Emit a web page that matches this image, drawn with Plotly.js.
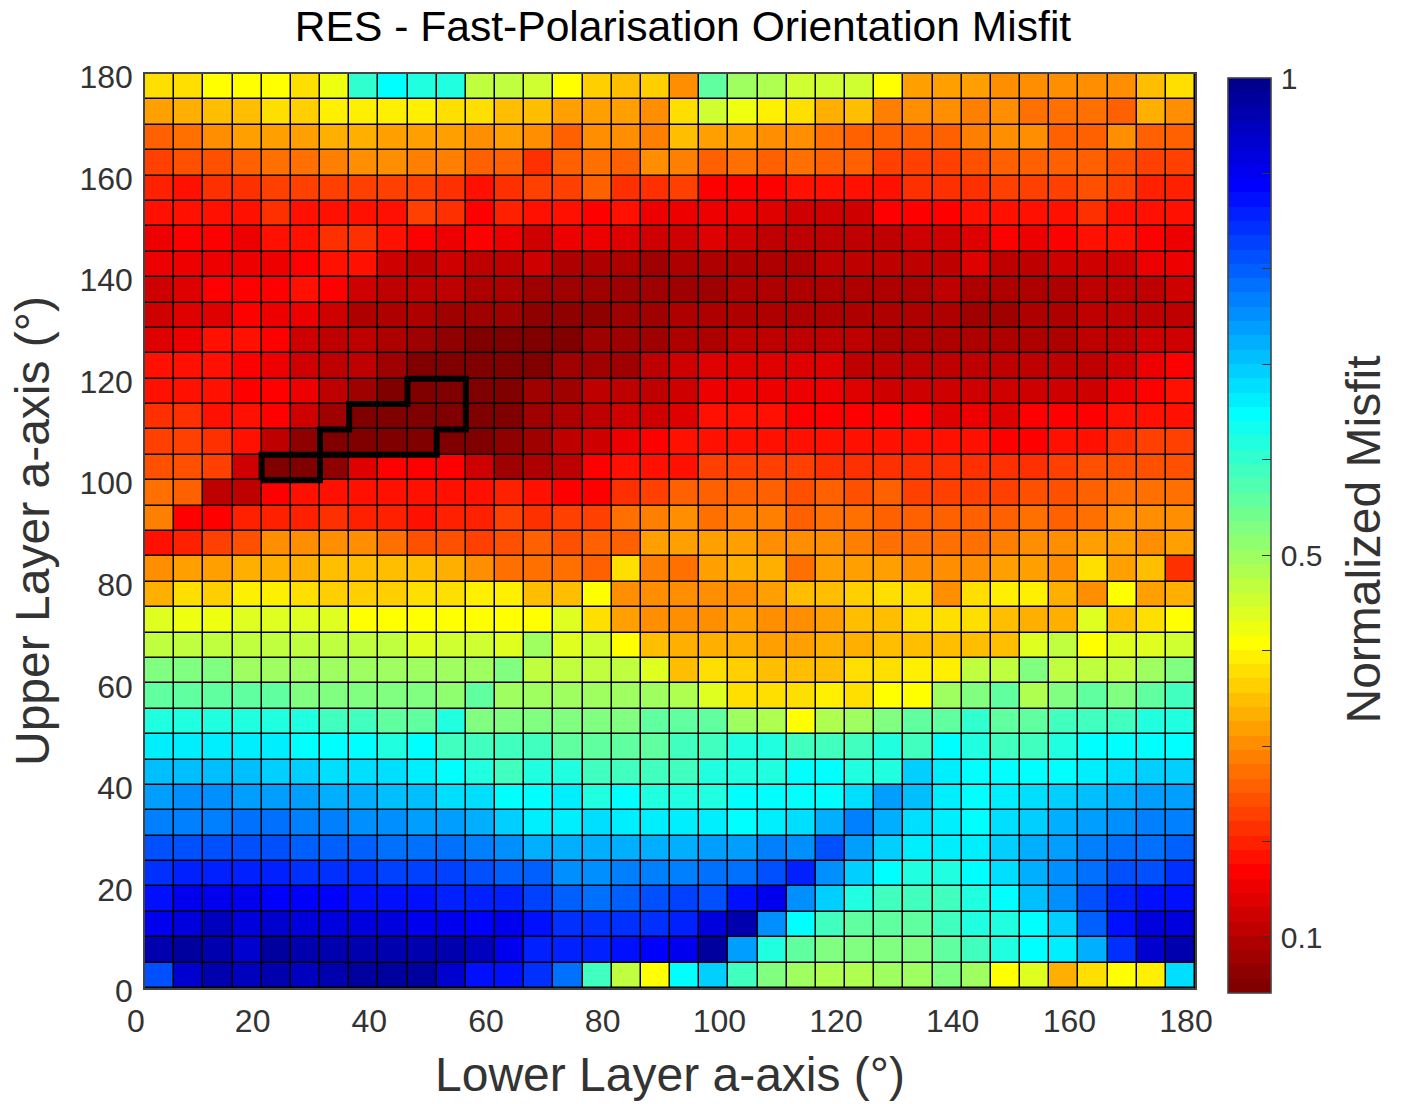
<!DOCTYPE html>
<html><head><meta charset="utf-8">
<script src="https://cdn.plot.ly/plotly-3.0.1.min.js"></script>
<style>html,body{margin:0;padding:0;background:#fff}#c{width:1402px;height:1104px}</style>
</head><body><div id="c"></div>
<script>
const lowerAxis = [2.5,7.5,12.5,17.5,22.5,27.5,32.5,37.5,42.5,47.5,52.5,57.5,62.5,67.5,72.5,77.5,82.5,87.5,92.5,97.5,102.5,107.5,112.5,117.5,122.5,127.5,132.5,137.5,142.5,147.5,152.5,157.5,162.5,167.5,172.5,177.5];
const upperAxis = [177.5,172.5,167.5,162.5,157.5,152.5,147.5,142.5,137.5,132.5,127.5,122.5,117.5,112.5,107.5,102.5,97.5,92.5,87.5,82.5,77.5,72.5,67.5,62.5,57.5,52.5,47.5,42.5,37.5,32.5,27.5,22.5,17.5,12.5,7.5,2.5];
const misfit = [
[.372,.372,.401,.401,.401,.372,.42,.61,.641,.625,.625,.475,.47,.46,.401,.365,.35,.365,.311,.565,.505,.49,.46,.46,.46,.415,.32,.326,.326,.297,.297,.30,.31,.30,.35,.372],
[.326,.341,.35,.35,.372,.365,.386,.386,.386,.386,.372,.372,.356,.356,.326,.326,.326,.297,.38,.46,.42,.386,.372,.341,.356,.29,.30,.30,.29,.297,.281,.27,.27,.266,.335,.30],
[.26,.27,.30,.32,.326,.326,.341,.341,.326,.326,.326,.311,.32,.30,.252,.297,.297,.29,.356,.326,.32,.297,.297,.281,.266,.266,.26,.26,.29,.297,.297,.26,.26,.297,.26,.26],
[.23,.245,.237,.26,.27,.27,.29,.297,.30,.29,.29,.266,.252,.215,.266,.281,.252,.297,.29,.266,.27,.252,.27,.26,.26,.23,.23,.222,.237,.252,.26,.252,.266,.245,.23,.23],
[.2,.191,.207,.207,.222,.222,.222,.23,.23,.222,.207,.191,.215,.23,.23,.266,.207,.207,.23,.162,.162,.162,.191,.177,.18,.177,.215,.215,.207,.222,.23,.23,.245,.23,.2,.2],
[.177,.177,.177,.191,.207,.191,.185,.191,.191,.222,.207,.162,.2,.177,.191,.162,.177,.147,.147,.147,.147,.132,.125,.125,.125,.162,.162,.162,.177,.185,.185,.191,.207,.191,.177,.177],
[.147,.162,.162,.155,.177,.185,.207,.207,.191,.162,.147,.162,.147,.117,.147,.147,.132,.125,.125,.132,.117,.11,.11,.102,.102,.105,.125,.125,.132,.162,.147,.162,.177,.177,.162,.147],
[.147,.147,.147,.147,.147,.162,.177,.177,.125,.11,.125,.102,.102,.125,.095,.095,.1,.085,.095,.095,.095,.095,.095,.108,.102,.11,.102,.105,.132,.102,.102,.125,.125,.125,.147,.147],
[.117,.132,.162,.162,.162,.177,.162,.125,.102,.105,.102,.095,.095,.08,.08,.08,.08,.08,.08,.08,.095,.095,.09,.095,.095,.095,.095,.102,.095,.09,.09,.095,.102,.105,.11,.125],
[.117,.135,.132,.162,.147,.147,.117,.095,.095,.09,.08,.078,.072,.068,.068,.068,.072,.08,.087,.1,.1,.1,.1,.1,.09,.095,.095,.1,.083,.083,.095,.098,.102,.102,.102,.105],
[.132,.147,.177,.191,.162,.117,.105,.11,.095,.08,.06,.05,.05,.052,.052,.072,.08,.08,.1,.1,.11,.11,.11,.11,.102,.098,.098,.098,.098,.095,.095,.098,.105,.11,.125,.125],
[.177,.191,.191,.162,.147,.117,.105,.102,.085,.052,.052,.05,.05,.052,.072,.072,.085,.102,.117,.135,.135,.135,.135,.135,.11,.11,.11,.11,.11,.11,.11,.11,.11,.125,.147,.162],
[.191,.177,.185,.162,.162,.147,.11,.072,.056,.042,.042,.05,.05,.072,.08,.102,.102,.11,.125,.147,.147,.147,.147,.147,.14,.125,.125,.125,.13,.125,.125,.13,.125,.147,.162,.177],
[.207,.207,.191,.177,.162,.125,.072,.042,.042,.042,.042,.056,.05,.08,.098,.11,.13,.117,.135,.177,.177,.177,.162,.162,.162,.162,.162,.14,.147,.14,.162,.162,.162,.177,.191,.191],
[.23,.23,.207,.191,.11,.06,.042,.042,.042,.042,.056,.05,.06,.08,.11,.117,.147,.162,.177,.191,.185,.185,.191,.191,.177,.177,.177,.177,.177,.165,.165,.191,.191,.207,.23,.23],
[.245,.245,.23,.117,.042,.05,.06,.132,.162,.162,.162,.125,.08,.098,.105,.162,.177,.191,.191,.23,.23,.23,.23,.215,.215,.215,.207,.207,.207,.207,.207,.23,.237,.237,.237,.245],
[.27,.26,.105,.11,.162,.185,.185,.185,.185,.185,.185,.185,.2,.191,.162,.162,.215,.23,.26,.252,.26,.26,.245,.252,.245,.252,.23,.23,.222,.23,.237,.237,.26,.27,.27,.27],
[.29,.162,.162,.2,.2,.2,.207,.2,.2,.191,.2,.2,.222,.215,.23,.222,.281,.29,.297,.281,.29,.29,.266,.27,.281,.26,.26,.252,.252,.266,.27,.266,.281,.297,.297,.297],
[.177,.2,.23,.245,.297,.3,.311,.297,.281,.237,.245,.23,.237,.252,.245,.252,.266,.326,.326,.326,.32,.3,.297,.297,.29,.281,.281,.281,.281,.29,.297,.311,.32,.326,.3,.326],
[.3,.326,.326,.341,.341,.341,.356,.356,.356,.356,.341,.311,.27,.27,.27,.266,.372,.29,.281,.326,.341,.341,.281,.326,.32,.32,.311,.311,.311,.32,.32,.311,.372,.326,.356,.207],
[.341,.372,.365,.386,.386,.372,.365,.365,.365,.38,.38,.386,.386,.356,.356,.401,.297,.297,.297,.297,.297,.326,.356,.356,.365,.372,.372,.311,.372,.386,.386,.341,.311,.401,.326,.341],
[.431,.425,.425,.445,.431,.431,.431,.415,.401,.401,.415,.415,.415,.415,.445,.38,.326,.311,.311,.311,.32,.311,.311,.326,.356,.356,.372,.372,.372,.356,.335,.341,.445,.356,.38,.401],
[.461,.468,.475,.475,.475,.475,.475,.461,.461,.445,.455,.455,.445,.491,.445,.455,.415,.356,.341,.341,.335,.326,.326,.341,.341,.356,.35,.35,.356,.356,.431,.475,.415,.431,.445,.455],
[.521,.535,.521,.505,.505,.505,.505,.505,.505,.505,.491,.491,.521,.475,.475,.475,.461,.445,.356,.372,.365,.356,.356,.356,.372,.372,.386,.386,.461,.461,.521,.461,.468,.475,.505,.521],
[.565,.565,.565,.551,.551,.535,.521,.521,.521,.521,.515,.551,.505,.505,.5,.505,.505,.505,.485,.445,.372,.372,.372,.386,.38,.401,.401,.505,.521,.565,.485,.521,.551,.535,.551,.581],
[.625,.625,.625,.625,.625,.611,.595,.595,.551,.551,.611,.535,.535,.535,.535,.528,.535,.551,.551,.551,.491,.485,.401,.485,.491,.528,.551,.565,.605,.551,.565,.581,.59,.595,.611,.625],
[.67,.67,.67,.67,.67,.655,.655,.641,.625,.655,.595,.581,.581,.581,.565,.565,.551,.551,.581,.595,.611,.611,.581,.595,.595,.611,.581,.655,.611,.595,.595,.625,.641,.641,.655,.655],
[.715,.715,.715,.715,.70,.70,.685,.685,.685,.67,.655,.611,.595,.611,.611,.595,.581,.581,.595,.611,.625,.625,.641,.641,.625,.625,.70,.67,.641,.641,.641,.655,.67,.685,.70,.70],
[.74,.75,.75,.74,.745,.74,.73,.73,.715,.715,.685,.685,.641,.641,.67,.625,.641,.625,.611,.625,.641,.641,.641,.641,.685,.74,.708,.67,.641,.67,.685,.69,.708,.73,.74,.745],
[.775,.775,.775,.78,.78,.775,.765,.76,.75,.745,.745,.73,.70,.67,.67,.685,.67,.67,.67,.67,.655,.67,.685,.72,.775,.73,.685,.66,.655,.68,.70,.72,.74,.75,.765,.775],
[.82,.815,.815,.82,.815,.805,.805,.795,.79,.78,.78,.775,.76,.72,.73,.72,.72,.72,.73,.74,.745,.765,.76,.82,.745,.70,.67,.66,.66,.70,.72,.74,.765,.78,.79,.805],
[.85,.865,.865,.865,.865,.85,.85,.84,.83,.83,.83,.815,.795,.805,.75,.75,.765,.765,.775,.79,.78,.82,.865,.76,.69,.641,.625,.625,.641,.68,.72,.76,.79,.82,.815,.84],
[.88,.91,.91,.905,.895,.895,.895,.88,.88,.88,.865,.865,.86,.83,.805,.79,.795,.815,.83,.82,.88,.91,.76,.69,.625,.581,.581,.595,.625,.655,.708,.76,.82,.86,.87,.87],
[.91,.925,.955,.925,.94,.925,.92,.925,.925,.91,.91,.895,.91,.88,.84,.84,.84,.85,.865,.925,.96,.76,.655,.581,.551,.565,.565,.595,.611,.625,.655,.70,.805,.88,.92,.925],
[.97,.985,.96,.94,.975,.97,.97,.96,.96,.97,.96,.955,.91,.865,.86,.865,.88,.895,.91,.985,.745,.611,.551,.521,.521,.521,.528,.565,.595,.625,.655,.67,.73,.85,.94,.96],
[.82,.94,.97,.955,.97,.955,.96,.985,.985,.975,.94,.88,.88,.85,.78,.595,.461,.401,.655,.69,.595,.521,.491,.485,.485,.505,.505,.528,.491,.401,.445,.341,.372,.401,.386,.685]
];
const bestFitX = [20,30,30,50,50,55,55,45,45,35,35,30,30,20,20];
const bestFitY = [100,100,105,105,110,110,120,120,115,115,110,110,105,105,100];
const xTicks = [0,20,40,60,80,100,120,140,160,180];
const yTicks = [0,20,40,60,80,100,120,140,160,180];
const barTicks = [0.1,0.2,0.3,0.4,0.5,0.6,0.7,0.8,0.9,1];
const barLabels = ['\u200A0.1','','','','\u200A0.5','','','','','\u200A1'];

function jet64(i){
  const x=(i+1)/64, c=v=>Math.round(255*Math.max(0,Math.min(1,v)));
  return 'rgb('+c(Math.min(4*x-1.5,-4*x+4.5))+','+c(Math.min(4*x-0.5,-4*x+3.5))+','+c(Math.min(4*x+0.5,-4*x+2.5))+')';
}
const steppedJet=[];
for(let k=0;k<64;k++){const col=jet64(63-k);steppedJet.push([k/64,col],[(k+1)/64,col]);}

const ink='#333333', fam='"Liberation Sans", Arial, Helvetica, sans-serif';
const traces=[
 {type:'heatmap',x:lowerAxis,y:upperAxis,z:misfit,zmin:0.0415,zmax:1,colorscale:steppedJet,xgap:1.5,ygap:1.5,hoverongaps:false,
  colorbar:{thickness:43,thicknessmode:'pixels',len:915,lenmode:'pixels',x:1.0314,xanchor:'left',xpad:0,y:-0.0055,yanchor:'bottom',ypad:0,
    tickmode:'array',tickvals:barTicks,ticktext:barLabels,ticks:'inside',ticklen:9,tickwidth:1.2,tickcolor:ink,
    outlinecolor:'#444',outlinewidth:1.6,borderwidth:0,tickfont:{family:fam,size:30,color:ink}}},
 {type:'scatter',mode:'lines',x:bestFitX,y:bestFitY,line:{color:'#000',width:6},hoverinfo:'skip',showlegend:false}
];
const layout={
 width:1402,height:1104,paper_bgcolor:'#fff',plot_bgcolor:'#000',showlegend:false,
 margin:{l:145,r:207,t:74,b:116,autoexpand:false},
 font:{family:fam,color:ink},
 title:{text:'RES - Fast-Polarisation Orientation Misfit',font:{family:fam,size:42.6,color:'#000'},x:683/1402,xanchor:'center',y:1-26/1104,yanchor:'middle',xref:'container',yref:'container'},
 xaxis:{range:[0,180],tickmode:'array',tickvals:xTicks,ticks:'',showgrid:false,zeroline:false,showline:true,mirror:true,linecolor:'#444',linewidth:1.5,
   tickfont:{family:fam,size:32,color:ink},ticklabelshift:-9,ticklabelstandoff:4,
   title:{text:'Lower Layer a-axis (°)',font:{family:fam,size:48,color:ink},standoff:19}},
 yaxis:{range:[0,180],tickmode:'array',tickvals:yTicks,ticks:'',showgrid:false,zeroline:false,showline:true,mirror:true,linecolor:'#444',linewidth:1.5,
   tickfont:{family:fam,size:32,color:ink},ticklabelshift:3,ticklabelstandoff:4,
   title:{text:'Upper Layer a-axis (°)',font:{family:fam,size:48,color:ink},standoff:15}},
 annotations:[{text:'Normalized Misfit',xref:'paper',yref:'paper',x:(1363-145)/1050,y:(988-539.5)/914,xanchor:'center',yanchor:'middle',textangle:-90,showarrow:false,font:{family:fam,size:48,color:ink}}]
};
Plotly.newPlot('c',traces,layout,{displayModeBar:false,responsive:false});
</script></body></html>
